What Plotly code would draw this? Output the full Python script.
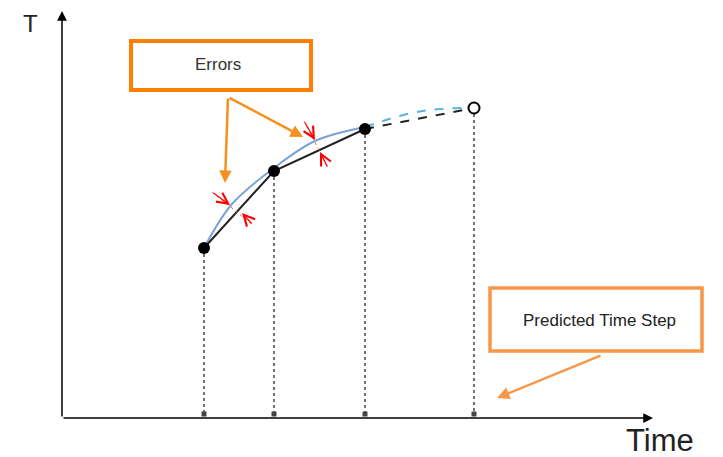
import plotly.graph_objects as go

# canvas is laid out in pixel-like units: x to the right, y upward (0..457)
step_time = [204, 274, 365]
step_temp = [209, 286, 328]

pred_time = [474]
pred_temp = [349]

# exact solution curve
curve_time = [204, 232, 274, 315, 365]
curve_temp = [209, 253, 289, 316, 330]
pred_curve_time = [365, 407, 440, 474]
pred_curve_temp = [330, 343, 348, 349]

axis_y0 = 39
tick_y = 43

ORANGE = '#FF8000'
ORANGE_LIGHT = '#F79646'
FONT = 'Liberation Sans, Arial, sans-serif'

fig = go.Figure()

# vertical dotted drop lines from each time step to the time axis
for t, v in zip(step_time + pred_time, step_temp + pred_temp):
    fig.add_trace(go.Scatter(
        x=[t, t], y=[v, tick_y], mode='lines',
        line=dict(color='#444444', width=1.5, dash='dot'),
        hoverinfo='skip'
    ))

fig.add_trace(go.Scatter(
    x=step_time + pred_time, y=[tick_y] * 4, mode='markers',
    marker=dict(symbol='square', size=5, color='#444444'),
    hoverinfo='skip'
))

# exact curve (solid blue) and its continuation (dashed light blue)
fig.add_trace(go.Scatter(
    x=curve_time, y=curve_temp, mode='lines', line_shape='spline',
    line=dict(color='#7BA3D6', width=2)
))
fig.add_trace(go.Scatter(
    x=pred_curve_time, y=pred_curve_temp, mode='lines', line_shape='spline',
    line=dict(color='#5BB4D8', width=2, dash='dash')
))

# numerical solution (black) and predicted step (dashed)
fig.add_trace(go.Scatter(
    x=step_time, y=step_temp, mode='lines',
    line=dict(color='#222222', width=2)
))
fig.add_trace(go.Scatter(
    x=[step_time[-1], pred_time[0]], y=[step_temp[-1], pred_temp[0]], mode='lines',
    line=dict(color='#222222', width=2, dash='dash')
))

fig.add_trace(go.Scatter(
    x=step_time, y=step_temp, mode='markers',
    marker=dict(size=12, color='black')
))
fig.add_trace(go.Scatter(
    x=pred_time, y=pred_temp, mode='markers',
    marker=dict(size=11, color='white', line=dict(color='black', width=2))
))

# error markers (thin red line between red arrowheads)
for x0, y0, x1, y1 in [(212, 265, 253, 232), (304, 336, 328, 289)]:
    fig.add_trace(go.Scatter(
        x=[x0, x1], y=[y0, y1], mode='lines',
        line=dict(color='#FF6060', width=1, dash='dot'),
        hoverinfo='skip'
    ))

arrows = []


def arrow(x, y, ax, ay, color, width=1.5, head=2, size=1.0):
    arrows.append(dict(
        x=x, y=y, ax=ax, ay=ay, xref='x', yref='y', axref='x', ayref='y',
        text='', showarrow=True, arrowhead=head, arrowsize=size,
        arrowwidth=width, arrowcolor=color, standoff=0
    ))


# axes
arrow(62, 446, 62, axis_y0, 'black', 1.5, 2, 1.3)
arrow(653, axis_y0, 62, axis_y0, 'black', 1.5, 2, 1.3)

# red error arrows
arrow(230, 252, 212, 265, 'red', 1.2, 5, 1.8)
arrow(242, 244, 253, 232, 'red', 1.2, 5, 1.8)
arrow(315, 317, 304, 336, 'red', 1.2, 5, 1.8)
arrow(320, 305, 328, 289, 'red', 1.2, 5, 1.8)

# callout arrows
arrow(225, 274, 228, 360, '#F5901E', 2.5, 2, 1.0)
arrow(303, 320, 228, 360, '#F5901E', 2.5, 2, 1.0)
arrow(497, 59, 602, 102, ORANGE_LIGHT, 2.5, 2, 1.0)

labels = [
    dict(x=30, y=434, text='T', font=dict(size=24, color='#222222', family=FONT)),
    dict(x=660, y=17, text='Time', font=dict(size=31, color='#222222', family=FONT)),
    dict(x=218, y=393, text='Errors', font=dict(size=17, color='#333333', family=FONT)),
    dict(x=599, y=137, text='Predicted Time Step', font=dict(size=17, color='#222222', family=FONT)),
]
for lab in labels:
    lab.update(xref='x', yref='y', showarrow=False)

# the page keeps an 8px body margin, so the figure is shrunk and the
# ranges shifted to line the drawing up with the window
fig.update_layout(
    width=715, height=449, autosize=False,
    margin=dict(l=0, r=0, t=0, b=0),
    paper_bgcolor='white', plot_bgcolor='white',
    showlegend=False,
    xaxis=dict(range=[8, 723], visible=False, fixedrange=True),
    yaxis=dict(range=[0, 449], visible=False, fixedrange=True),
    annotations=arrows + labels,
    shapes=[
        dict(type='rect', xref='x', yref='y', x0=131, x1=311, y0=367, y1=416,
             line=dict(color=ORANGE, width=4), fillcolor='white', layer='below'),
        dict(type='rect', xref='x', yref='y', x0=490, x1=702, y0=106, y1=169,
             line=dict(color=ORANGE_LIGHT, width=3.5), fillcolor='white', layer='below'),
    ],
)

fig.write_html("out.html")
